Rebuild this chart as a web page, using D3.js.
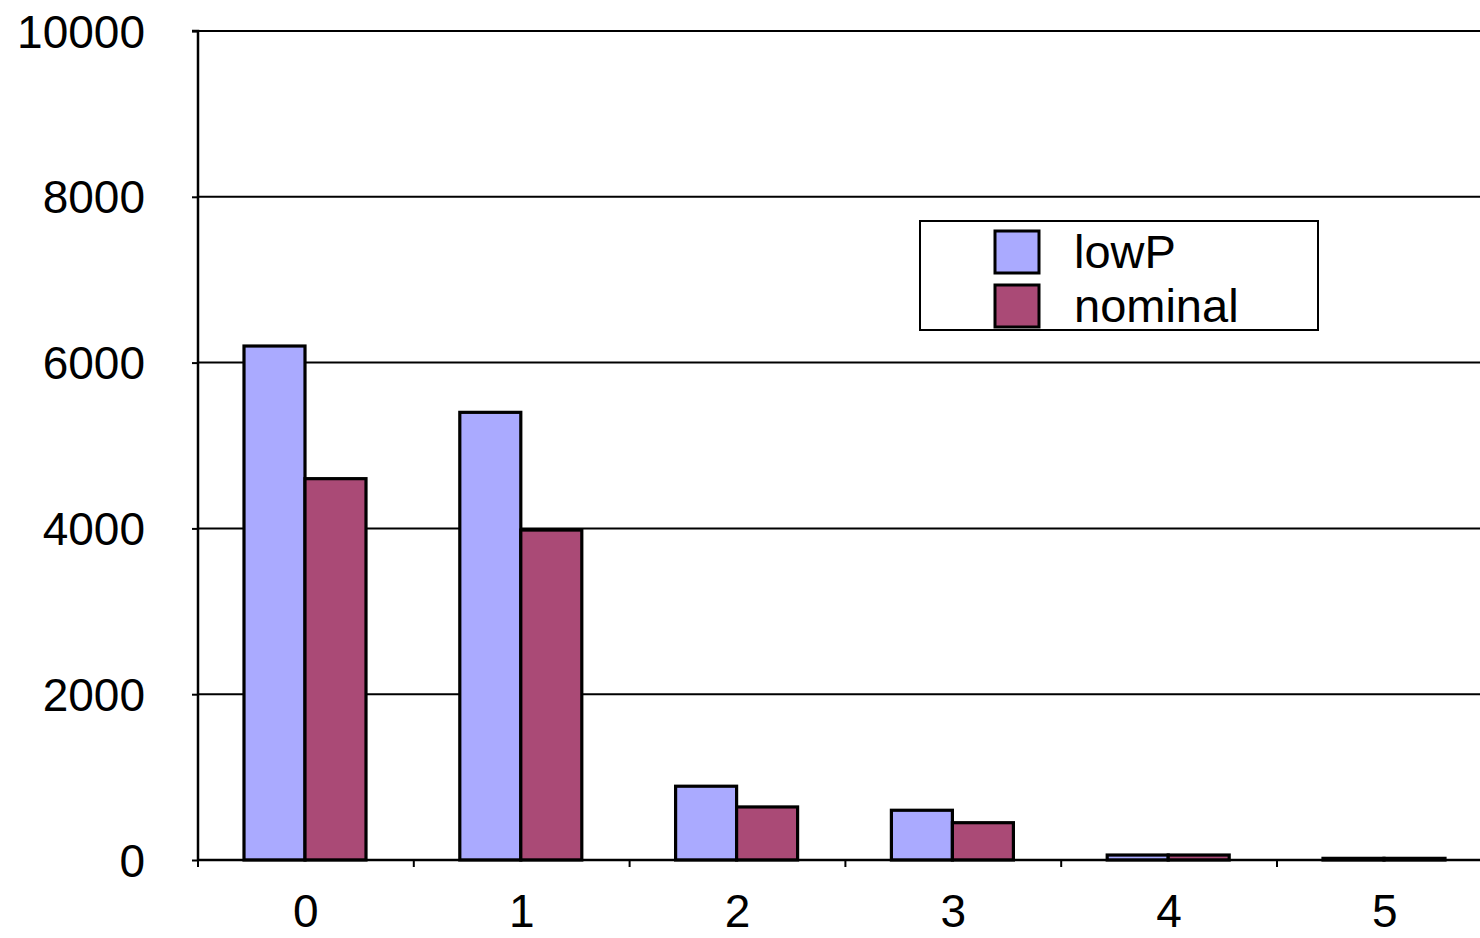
<!DOCTYPE html>
<html><head><meta charset="utf-8">
<script src="https://cdn.jsdelivr.net/npm/d3@7"></script>
<style>body{margin:0;background:#fff;}svg{display:block;}</style>
</head><body>
<script>
const categories = ["0","1","2","3","4","5"];
const seriesNames = ["lowP","nominal"];
const lowP = [6200, 5400, 890, 600, 60, 20];
const nominal = [4600, 3980, 640, 450, 60, 20];
const yTicks = [0, 2000, 4000, 6000, 8000, 10000];
const colors = ["#AAAAFF", "#AA4A76"];

(function () {
const W = 1480, H = 938;
const svg = d3.select("body").append("svg").attr("width", W).attr("height", H);
const pLeft = 198, pTop = 31, pBottom = 860, pRight = 198 + 6 * 215.8;
const x = d3.scaleBand().domain(categories).range([pLeft, pRight]);
const y = d3.scaleLinear().domain([0, 10000]).range([pBottom, pTop]);
const inner = d3.scaleBand().domain(seriesNames).range([46, 168]);
const font = "'Liberation Sans', Arial, sans-serif";

// gridlines
svg.append("g").selectAll("line").data(yTicks).join("line")
  .attr("x1", pLeft).attr("x2", pRight).attr("y1", d => y(d)).attr("y2", d => y(d))
  .attr("stroke", "#000").attr("stroke-width", 2);

// bars
const data = [lowP, nominal];
seriesNames.forEach((s, si) => {
  svg.append("g").selectAll("rect").data(categories).join("rect")
    .attr("x", c => x(c) + inner(s))
    .attr("width", inner.bandwidth())
    .attr("y", (c, i) => y(data[si][i]))
    .attr("height", (c, i) => y(0) - y(data[si][i]))
    .attr("fill", colors[si]).attr("stroke", "#000").attr("stroke-width", 3.2);
});

// y axis
const ya = svg.append("g").attr("transform", `translate(${pLeft},0)`)
  .call(d3.axisLeft(y).tickValues(yTicks).tickSize(6).tickPadding(47).tickFormat(d3.format("d")));
ya.select(".domain").attr("stroke-width", 2.5).attr("d", `M-6,${pTop}H0V${pBottom}`);
ya.selectAll(".tick line").attr("stroke-width", 2);
ya.selectAll("text").attr("font-family", font).attr("font-size", 46).attr("fill", "#000").attr("dy", "0.35em");

// x axis
const xa = svg.append("g").attr("transform", `translate(0,${pBottom})`)
  .call(d3.axisBottom(x).tickSize(0).tickPadding(34));
xa.select(".domain").remove();
xa.selectAll("text").attr("font-family", font).attr("font-size", 46).attr("fill", "#000");
svg.append("g").selectAll("line").data(d3.range(categories.length + 1)).join("line")
  .attr("x1", i => pLeft + i * x.step()).attr("x2", i => pLeft + i * x.step())
  .attr("y1", pBottom).attr("y2", pBottom + 7).attr("stroke", "#000").attr("stroke-width", 2);
svg.append("line").attr("x1", pLeft).attr("x2", pRight).attr("y1", pBottom).attr("y2", pBottom)
  .attr("stroke", "#000").attr("stroke-width", 2.5);

// legend
const lg = svg.append("g");
lg.append("rect").attr("x", 920).attr("y", 221).attr("width", 398).attr("height", 109)
  .attr("fill", "#fff").attr("stroke", "#000").attr("stroke-width", 2);
seriesNames.forEach((s, i) => {
  lg.append("rect").attr("x", 995).attr("y", 231 + i * 54).attr("width", 44).attr("height", 42)
    .attr("fill", colors[i]).attr("stroke", "#000").attr("stroke-width", 3);
  lg.append("text").attr("x", 1074).attr("y", 268 + i * 54).text(s)
    .attr("font-family", font).attr("font-size", 47).attr("fill", "#000");
});
})();
</script>
</body></html>
